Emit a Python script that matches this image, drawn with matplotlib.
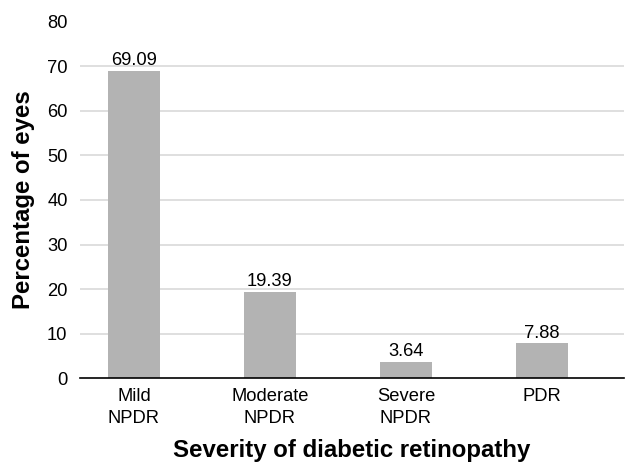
import matplotlib.pyplot as plt

plt.rcParams['font.family'] = ['Liberation Sans', 'DejaVu Sans']

categories = ["Mild\nNPDR", "Moderate\nNPDR", "Severe\nNPDR", "PDR"]
percentages = [69.09, 19.39, 3.64, 7.88]
yticks = [0, 10, 20, 30, 40, 50, 60, 70, 80]

fig = plt.figure(figsize=(6.25, 4.62), dpi=100)
ax = fig.add_axes([0.128, 0.1818, 0.8704, 0.7706])

x = range(len(categories))
bars = ax.bar(x, percentages, width=0.382, color='#b3b3b3', zorder=3)
for b, v in zip(bars, percentages):
    ax.text(b.get_x() + b.get_width() / 2, v + 0.3, "%.2f" % v,
            ha='center', va='bottom', fontsize=13.2, zorder=4)

ax.set_xlim(-0.397, 3.603)
ax.set_ylim(0, 80)
ax.set_yticks(yticks)
ax.set_xticks(list(x))
ax.set_xticklabels(categories, fontsize=13.2, linespacing=1.4)
ax.tick_params(axis='y', labelsize=13.2, length=0, pad=9)
ax.tick_params(axis='x', length=0, pad=7)
for yv in yticks[1:-1]:
    ax.axhline(yv, color='#d9d9d9', linewidth=1.2, zorder=0)

for s in ['top', 'right', 'left']:
    ax.spines[s].set_visible(False)
ax.spines['bottom'].set_color('black')
ax.spines['bottom'].set_linewidth(1.2)
ax.spines['bottom'].set_zorder(5)

ax.set_xlabel("Severity of diabetic retinopathy", fontsize=17.3, fontweight='bold')
ax.set_ylabel("Percentage of eyes", fontsize=17.3, fontweight='bold')
ax.xaxis.set_label_coords(0.5, -0.17)
ax.yaxis.set_label_coords(-0.083, 0.5)

fig.savefig("out.png", dpi=100)
